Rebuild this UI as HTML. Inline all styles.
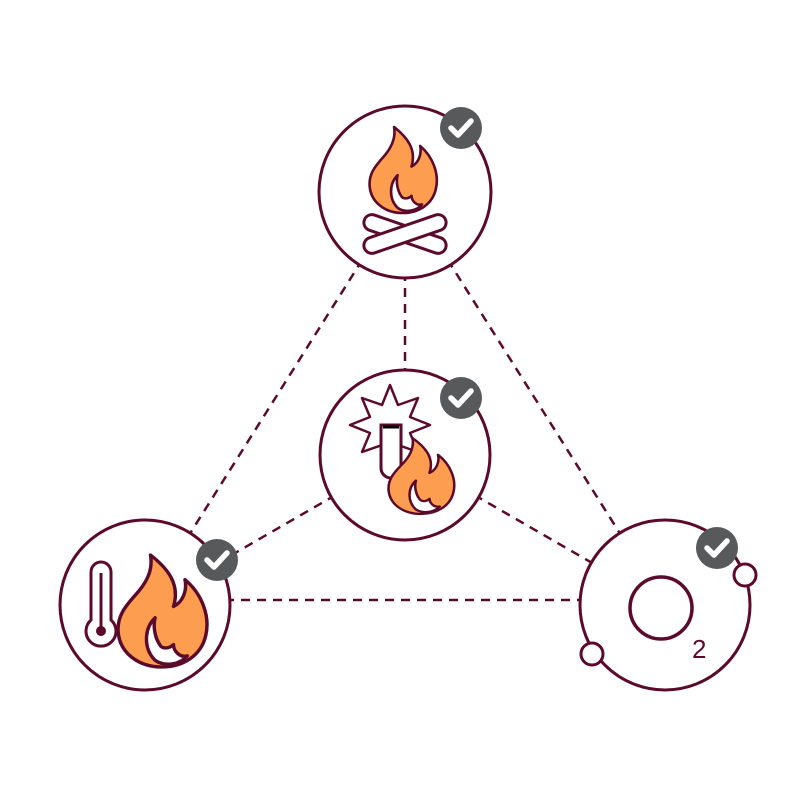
<!DOCTYPE html>
<html><head><meta charset="utf-8"><style>body{margin:0;background:#fff}svg{display:block}</style></head><body>
<svg width="801" height="800" viewBox="0 0 801 800" xmlns="http://www.w3.org/2000/svg">
<defs>
<g id="flame">
<path d="M30,0 C45,12 56,26 50,46 C58,42 62,32 60,22 C75,35 82,55 78,72 C74,90 58,100 40,100 C20,100 4,88 2,70 C0,52 12,42 20,32 C28,22 32,12 30,0 Z" fill="#fd9d50" stroke="#5c0a2b" stroke-width="3" stroke-linejoin="round"/>
<path d="M34,56 C24,66 24,84 34,94 C42,100 56,98 62,90 C56,92 50,86 50,80 C46,84 40,84 38,80 C34,74 32,64 34,56 Z" fill="#fff" stroke="#5c0a2b" stroke-width="3" stroke-linejoin="round"/>
</g>
<g id="chk"><circle r="21" fill="#58595b"/><path d="M-10,0 L-3,7 L10,-7" fill="none" stroke="#fff" stroke-width="5.5" stroke-linecap="round" stroke-linejoin="round"/></g>
</defs>
<g stroke="#5c0a2b" stroke-width="2.5" stroke-dasharray="9,7" fill="none">
<line x1="405" y1="192" x2="145" y2="605"/>
<line x1="405" y1="192" x2="665" y2="605"/>
<line x1="405" y1="192" x2="405" y2="455"/>
<line x1="405" y1="455" x2="145" y2="605"/>
<line x1="405" y1="455" x2="665" y2="605"/>
<line x1="145" y1="600" x2="665" y2="600"/>
</g>
<g fill="#fff" stroke="#5c0a2b" stroke-width="3">
<circle cx="405" cy="192" r="86"/>
<circle cx="405" cy="455" r="85"/>
<circle cx="145" cy="605" r="85"/>
<circle cx="665" cy="605" r="85"/>
</g>
<g transform="translate(368,127) scale(0.87,0.86)"><use href="#flame"/></g>
<g fill="#fff" stroke="#5c0a2b" stroke-width="3">
<rect x="362" y="226" width="86" height="16" rx="8" transform="rotate(19 405 234)"/>
<rect x="362" y="226" width="86" height="16" rx="8" transform="rotate(-19 405 234)"/>
</g>
<use href="#chk" x="461" y="128"/>
<polygon points="390,385 398,405 418,398 410,417 430,425 410,433 418,452 398,445 390,465 382,445 362,452 370,433 350,425 370,417 362,398 382,405" fill="#fff" stroke="#5c0a2b" stroke-width="2.5" stroke-linejoin="round"/>
<path d="M381,425 L381,468 A10,10 0 0 0 401,468 L401,425 Z" fill="#fff" stroke="#5c0a2b" stroke-width="3"/>
<line x1="383" y1="427" x2="399" y2="427" stroke="#000" stroke-width="3"/>
<g transform="translate(387,438) scale(0.85,0.76)"><use href="#flame"/></g>
<use href="#chk" x="461" y="398"/>
<path d="M91,572 A10,10 0 0 1 111,572 L111,620 A15,15 0 1 1 91,620 Z" fill="#fff" stroke="#5c0a2b" stroke-width="3"/>
<line x1="101" y1="573" x2="101" y2="630" stroke="#5c0a2b" stroke-width="3"/>
<circle cx="101" cy="631" r="5" fill="#5c0a2b"/>
<g transform="translate(116,555) scale(1.15,1.12)"><use href="#flame"/></g>
<use href="#chk" x="217" y="560"/>
<circle cx="661" cy="608" r="31" fill="none" stroke="#5c0a2b" stroke-width="3.5"/>
<text x="692" y="658" font-family="Liberation Sans, sans-serif" font-size="26" fill="#5c0a2b">2</text>
<circle cx="745" cy="575" r="11" fill="#fff" stroke="#5c0a2b" stroke-width="3"/>
<circle cx="592" cy="654" r="11" fill="#fff" stroke="#5c0a2b" stroke-width="3"/>
<use href="#chk" x="717" y="548"/>
</svg>
</body></html>
